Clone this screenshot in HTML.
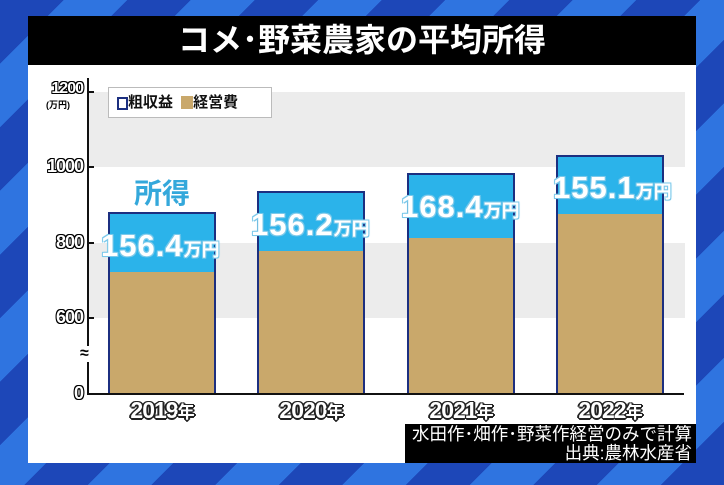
<!DOCTYPE html>
<html><head><meta charset="utf-8"><style>
html,body{margin:0;padding:0;}
body{width:724px;height:485px;overflow:hidden;position:relative;
background:repeating-linear-gradient(135deg,#1d47b8 0px,#1d47b8 45px,#2f74e0 45px,#2f74e0 90px);
font-family:"Liberation Sans","Noto Sans CJK JP",sans-serif;}
.panel{position:absolute;left:28px;top:16px;width:668px;height:447px;background:#fff;}
.title{position:absolute;left:28px;top:16px;width:668px;height:49px;background:#000;color:#fff;
font-size:32px;font-weight:bold;text-align:center;line-height:49px;}
.a{position:absolute;}
.band{position:absolute;left:89px;width:596px;background:#ececec;}
.bar{position:absolute;border:2px solid #1c2f80;border-bottom:none;box-sizing:border-box;background:#2bb3ea;}
.tan{position:absolute;left:0;right:0;bottom:0;background:#c9a86b;}
.tick{position:absolute;right:641px;font-weight:bold;font-size:18px;color:#fff;letter-spacing:-1px;
text-shadow:1px 1px 0 #000,-1px -1px 0 #000,1px -1px 0 #000,-1px 1px 0 #000,0 1px 0 #000,1px 0 0 #000,-1px 0 0 #000,0 -1px 0 #000;}
.val{position:absolute;color:#fff;font-weight:bold;font-size:31px;white-space:nowrap;letter-spacing:1px;
text-shadow:0 0 2px #7cc9ea,1px 1px 0 #7cc9ea,-1px -1px 0 #7cc9ea,1px -1px 0 #7cc9ea,-1px 1px 0 #7cc9ea;}
.val small{font-size:18px;letter-spacing:0;}
.yr{position:absolute;top:397px;width:110px;text-align:center;font-weight:bold;font-size:23px;color:#fff;letter-spacing:-1px;
text-shadow:1px 1px 0 #222,-1px -1px 0 #222,1px -1px 0 #222,-1px 1px 0 #222,0 2px 0 #222,2px 0 0 #222,-2px 0 0 #222;}
.yr small{font-size:17px;}
</style></head><body>
<div class="panel"></div>
<div class="title">コメ･野菜農家の平均所得</div>
<div class="band" style="top:92px;height:75px"></div>
<div class="band" style="top:243px;height:75px"></div>

<div class="bar" style="left:108px;top:212px;width:108px;height:182px"><div class="tan" style="height:122px"></div></div>
<div class="bar" style="left:257px;top:191px;width:108px;height:203px"><div class="tan" style="height:143px"></div></div>
<div class="bar" style="left:407px;top:173px;width:108px;height:221px"><div class="tan" style="height:156px"></div></div>
<div class="bar" style="left:556px;top:155px;width:108px;height:239px"><div class="tan" style="height:180px"></div></div>

<div class="a" style="left:87px;top:78px;width:2px;height:317px;background:#111"></div>
<div class="a" style="left:87px;top:393px;width:597px;height:2px;background:#111"></div>
<div class="a" style="left:89px;top:91px;width:5px;height:2px;background:#111"></div>
<div class="a" style="left:89px;top:166px;width:5px;height:2px;background:#111"></div>
<div class="a" style="left:89px;top:242px;width:5px;height:2px;background:#111"></div>
<div class="a" style="left:89px;top:317px;width:5px;height:2px;background:#111"></div>
<div class="a" style="left:80px;top:346px;font-size:16px;font-weight:bold;background:#fff;line-height:16px">≈</div>

<div class="tick" style="top:80px;font-size:16px">1200</div>
<div class="a" style="left:46px;top:98px;font-size:9px;font-weight:bold;color:#000">(万円)</div>
<div class="tick" style="top:156px">1000</div>
<div class="tick" style="top:232px">800</div>
<div class="tick" style="top:307px">600</div>
<div class="tick" style="top:383px">0</div>

<div class="a" style="left:108px;top:87px;width:162px;height:29px;border:1px solid #bbb;background:#fff;font-size:15px;font-weight:bold;line-height:29px;color:#111">
<span style="display:inline-block;width:11px;height:13px;border:2px solid #1c2f80;vertical-align:-3px;margin-left:8px;box-sizing:border-box"></span>粗収益
<span style="display:inline-block;width:12px;height:13px;background:#c9a86b;vertical-align:-2px;margin-left:4px"></span>経営費</div>

<div class="a" style="left:134px;top:178px;font-size:28px;font-weight:bold;color:#34a8db;line-height:32px">所得</div>
<div class="val" style="left:101px;top:228px">156.4<small>万円</small></div>
<div class="val" style="left:251px;top:207px">156.2<small>万円</small></div>
<div class="val" style="left:401px;top:189px">168.4<small>万円</small></div>
<div class="val" style="left:553px;top:170px">155.1<small>万円</small></div>

<div class="yr" style="left:107px">2019<small>年</small></div>
<div class="yr" style="left:256px">2020<small>年</small></div>
<div class="yr" style="left:406px">2021<small>年</small></div>
<div class="yr" style="left:555px">2022<small>年</small></div>

<div class="a" style="left:405px;top:424px;width:291px;height:39px;background:#000;color:#fff;font-size:17.5px;text-align:right;line-height:18.5px;padding-top:1px;box-sizing:border-box;padding-right:4px;white-space:nowrap">水田作･畑作･野菜作経営のみで計算<br>出典:農林水産省</div>
</body></html>
